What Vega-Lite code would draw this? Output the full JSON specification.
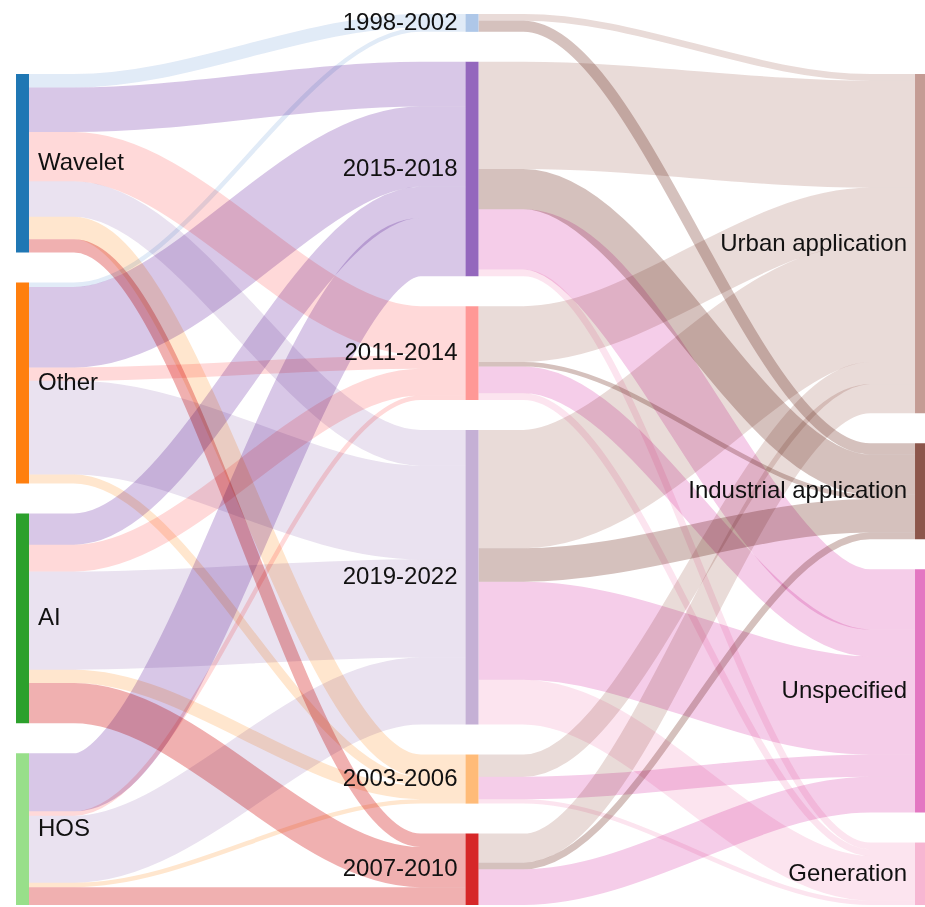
{
  "$schema": "https://vega.github.io/schema/vega-lite/v6.json",
  "width": 925,
  "height": 907,
  "autosize": "none",
  "padding": 0,
  "background": "white",
  "config": {"view": {"stroke": null}},
  "datasets": {
    "links": [
      {"s": "Wavelet", "t": "1998-2002", "v": 3},
      {"s": "Wavelet", "t": "2015-2018", "v": 10},
      {"s": "Wavelet", "t": "2011-2014", "v": 11},
      {"s": "Wavelet", "t": "2019-2022", "v": 8},
      {"s": "Wavelet", "t": "2003-2006", "v": 5},
      {"s": "Wavelet", "t": "2007-2010", "v": 3},
      {"s": "Other", "t": "1998-2002", "v": 1},
      {"s": "Other", "t": "2015-2018", "v": 18},
      {"s": "Other", "t": "2011-2014", "v": 3},
      {"s": "Other", "t": "2019-2022", "v": 21},
      {"s": "Other", "t": "2003-2006", "v": 2},
      {"s": "AI", "t": "2015-2018", "v": 7},
      {"s": "AI", "t": "2011-2014", "v": 6},
      {"s": "AI", "t": "2019-2022", "v": 22},
      {"s": "AI", "t": "2003-2006", "v": 3},
      {"s": "AI", "t": "2007-2010", "v": 9},
      {"s": "HOS", "t": "2015-2018", "v": 13},
      {"s": "HOS", "t": "2011-2014", "v": 1},
      {"s": "HOS", "t": "2019-2022", "v": 15},
      {"s": "HOS", "t": "2003-2006", "v": 1},
      {"s": "HOS", "t": "2007-2010", "v": 4},
      {"s": "1998-2002", "t": "Urban application", "v": 1.5},
      {"s": "1998-2002", "t": "Industrial application", "v": 2.5},
      {"s": "2015-2018", "t": "Urban application", "v": 24},
      {"s": "2015-2018", "t": "Industrial application", "v": 9},
      {"s": "2015-2018", "t": "Unspecified", "v": 13.5},
      {"s": "2015-2018", "t": "Generation", "v": 1.5},
      {"s": "2011-2014", "t": "Urban application", "v": 12.5},
      {"s": "2011-2014", "t": "Industrial application", "v": 1},
      {"s": "2011-2014", "t": "Unspecified", "v": 6},
      {"s": "2011-2014", "t": "Generation", "v": 1.5},
      {"s": "2019-2022", "t": "Urban application", "v": 26.5},
      {"s": "2019-2022", "t": "Industrial application", "v": 7.5},
      {"s": "2019-2022", "t": "Unspecified", "v": 22},
      {"s": "2019-2022", "t": "Generation", "v": 10},
      {"s": "2003-2006", "t": "Urban application", "v": 5},
      {"s": "2003-2006", "t": "Unspecified", "v": 5},
      {"s": "2003-2006", "t": "Generation", "v": 1},
      {"s": "2007-2010", "t": "Urban application", "v": 6.5},
      {"s": "2007-2010", "t": "Industrial application", "v": 1.5},
      {"s": "2007-2010", "t": "Unspecified", "v": 8}
    ],
    "nodes": [
      {"name": "Wavelet", "col": 0, "ord": 0},
      {"name": "Other", "col": 0, "ord": 1},
      {"name": "AI", "col": 0, "ord": 2},
      {"name": "HOS", "col": 0, "ord": 3},
      {"name": "1998-2002", "col": 1, "ord": 0},
      {"name": "2015-2018", "col": 1, "ord": 1},
      {"name": "2011-2014", "col": 1, "ord": 2},
      {"name": "2019-2022", "col": 1, "ord": 3},
      {"name": "2003-2006", "col": 1, "ord": 4},
      {"name": "2007-2010", "col": 1, "ord": 5},
      {"name": "Urban application", "col": 2, "ord": 0},
      {"name": "Industrial application", "col": 2, "ord": 1},
      {"name": "Unspecified", "col": 2, "ord": 2},
      {"name": "Generation", "col": 2, "ord": 3}
    ]
  },
  "layer": [
    {
      "data": {"name": "links"},
      "transform": [
        {"lookup": "s", "from": {"data": {"name": "nodes"}, "key": "name", "fields": ["col", "ord"]}, "as": ["sCol", "sOrd"]},
        {"lookup": "t", "from": {"data": {"name": "nodes"}, "key": "name", "fields": ["col", "ord"]}, "as": ["tCol", "tOrd"]},
        {"window": [{"op": "sum", "field": "v", "as": "sc"}], "groupby": ["sCol"], "sort": [{"field": "sOrd"}, {"field": "tOrd"}]},
        {"window": [{"op": "sum", "field": "v", "as": "tc"}], "groupby": ["tCol"], "sort": [{"field": "tOrd"}, {"field": "sOrd"}]},
        {"joinaggregate": [{"op": "distinct", "field": "s", "as": "nS"}], "groupby": ["sCol"]},
        {"joinaggregate": [{"op": "distinct", "field": "t", "as": "nT"}], "groupby": ["tCol"]},
        {"joinaggregate": [{"op": "max", "field": "nS", "as": "mS"}, {"op": "max", "field": "nT", "as": "mT"}]},
        {"calculate": "max(datum.mS, datum.mT)", "as": "maxN"},
        {"calculate": "(datum.maxN - datum.nS + datum.sOrd) * 6.72 + datum.sc - datum.v / 2", "as": "sm"},
        {"calculate": "(datum.maxN - datum.nT + datum.tOrd) * 6.72 + datum.tc - datum.v / 2", "as": "tm"},
        {"fold": ["a", "b", "c", "d"], "as": ["pt", "pv"]},
        {"calculate": "datum.pt == 'a' ? datum.sCol + 0.0289 : datum.pt == 'b' ? datum.sCol + 0.1289 : datum.pt == 'c' ? datum.tCol - 0.1 : datum.tCol", "as": "lx"},
        {"calculate": "datum.pt == 'a' || datum.pt == 'b' ? datum.sm : datum.tm", "as": "ly"}
      ],
      "mark": {"type": "line", "interpolate": "monotone", "opacity": 0.37, "strokeCap": "butt", "blend": "multiply"},
      "encoding": {
        "x": {"field": "lx", "type": "quantitative", "scale": {"domain": [-0.0356, 2.0222], "nice": false, "zero": false}, "axis": null},
        "y": {"field": "ly", "type": "quantitative", "scale": {"domain": [-3.136, 200.04], "nice": false, "zero": false, "reverse": true}, "axis": null},
        "detail": [{"field": "s"}, {"field": "t"}],
        "color": {"field": "t", "type": "nominal", "legend": null, "scale": {"domain": ["Wavelet", "Other", "AI", "HOS", "1998-2002", "2015-2018", "2011-2014", "2019-2022", "2003-2006", "2007-2010", "Urban application", "Industrial application", "Unspecified", "Generation"], "range": ["#1f77b4", "#ff7f0e", "#2ca02c", "#98df8a", "#aec7e8", "#9467bd", "#ff9896", "#c5b0d5", "#ffbb78", "#d62728", "#c49c94", "#8c564b", "#e377c2", "#f7b6d2"]}},
        "strokeWidth": {"field": "v", "type": "quantitative", "legend": null, "scale": {"domain": [0, 100], "range": [0, 446.4], "zero": true}}
      }
    },
    {
      "data": {"name": "links"},
      "transform": [
        {"fold": ["s", "t"], "as": ["end", "name"]},
        {"aggregate": [{"op": "sum", "field": "v", "as": "tot"}], "groupby": ["name", "end"]},
        {"aggregate": [{"op": "max", "field": "tot", "as": "val"}], "groupby": ["name"]},
        {"lookup": "name", "from": {"data": {"name": "nodes"}, "key": "name", "fields": ["col", "ord"]}},
        {"window": [{"op": "sum", "field": "val", "as": "cum"}], "groupby": ["col"], "sort": [{"field": "ord"}]},
        {"joinaggregate": [{"op": "count", "as": "n"}], "groupby": ["col"]},
        {"joinaggregate": [{"op": "max", "field": "n", "as": "maxN"}]},
        {"calculate": "(datum.maxN - datum.n + datum.ord) * 6.72 + datum.cum", "as": "y1"},
        {"calculate": "datum.y1 - datum.val", "as": "y0"},
        {"calculate": "datum.y1 - datum.val / 2", "as": "ym"},
        {"calculate": "datum.col + 0.0289", "as": "x1"}
      ],
      "layer": [
        {
          "mark": {"type": "rect"},
          "encoding": {
            "x": {"field": "col", "type": "quantitative", "scale": {"domain": [-0.0356, 2.0222], "nice": false, "zero": false}, "axis": null},
            "x2": {"field": "x1"},
            "y": {"field": "y0", "type": "quantitative", "scale": {"domain": [-3.136, 200.04], "nice": false, "zero": false, "reverse": true}, "axis": null},
            "y2": {"field": "y1"},
            "color": {"field": "name", "type": "nominal", "legend": null, "scale": {"domain": ["Wavelet", "Other", "AI", "HOS", "1998-2002", "2015-2018", "2011-2014", "2019-2022", "2003-2006", "2007-2010", "Urban application", "Industrial application", "Unspecified", "Generation"], "range": ["#1f77b4", "#ff7f0e", "#2ca02c", "#98df8a", "#aec7e8", "#9467bd", "#ff9896", "#c5b0d5", "#ffbb78", "#d62728", "#c49c94", "#8c564b", "#e377c2", "#f7b6d2"]}}
          }
        },
        {
          "transform": [{"filter": "datum.col == 0"}],
          "mark": {"type": "text", "align": "left", "baseline": "middle", "dx": 9, "font": "Liberation Sans, Arial, sans-serif", "fontSize": 24, "color": "#111"},
          "encoding": {
            "x": {"field": "x1", "type": "quantitative", "scale": {"domain": [-0.0356, 2.0222], "nice": false, "zero": false}, "axis": null},
            "y": {"field": "ym", "type": "quantitative", "scale": {"domain": [-3.136, 200.04], "nice": false, "zero": false, "reverse": true}, "axis": null},
            "text": {"field": "name"}
          }
        },
        {
          "transform": [{"filter": "datum.col > 0"}],
          "mark": {"type": "text", "align": "right", "baseline": "middle", "dx": -8, "font": "Liberation Sans, Arial, sans-serif", "fontSize": 24, "color": "#111"},
          "encoding": {
            "x": {"field": "col", "type": "quantitative", "scale": {"domain": [-0.0356, 2.0222], "nice": false, "zero": false}, "axis": null},
            "y": {"field": "ym", "type": "quantitative", "scale": {"domain": [-3.136, 200.04], "nice": false, "zero": false, "reverse": true}, "axis": null},
            "text": {"field": "name"}
          }
        }
      ]
    }
  ]
}
